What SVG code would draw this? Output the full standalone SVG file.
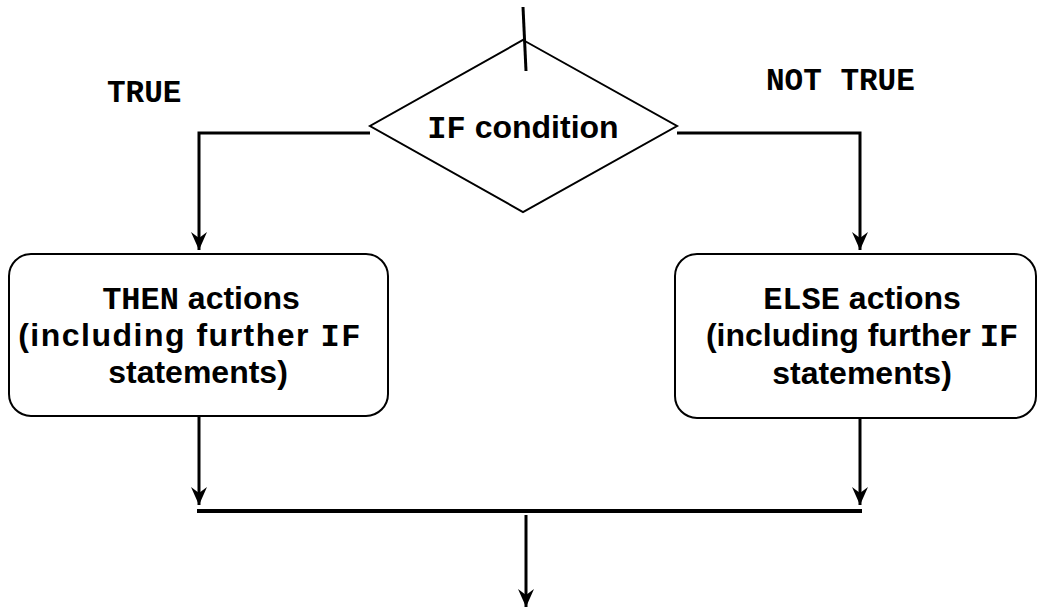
<svg xmlns="http://www.w3.org/2000/svg" width="1039" height="610" viewBox="0 0 1039 610">
<style>
.shape{fill:#fff;stroke:#000;stroke-width:2}
.line{fill:none;stroke:#000;stroke-width:3}
.t{font-family:"Liberation Sans",Arial,sans-serif;font-weight:bold;font-size:32px;fill:#000;text-anchor:middle}
.m{font-family:"Liberation Mono","Courier New",monospace;font-weight:bold}
.lbl{font-family:"Liberation Mono","Courier New",monospace;font-weight:bold;font-size:31px;fill:#000}
</style>
<defs>
<marker id="arr" viewBox="0 0 18 16" refX="18" refY="8" markerWidth="18" markerHeight="16" markerUnits="userSpaceOnUse" orient="auto">
<path d="M0,0 L18,8 L0,16 L6,8 Z" fill="#000"/>
</marker>
</defs>
<g id="decision">
<polygon class="shape" points="523,40 677,126 523,212 370,126"/>
<text class="t" x="523" y="138"><tspan class="m">IF</tspan> condition</text>
</g>
<g id="then">
<rect class="shape" x="9" y="254" width="379" height="162" rx="22"/>
<text class="t" x="201" y="309"><tspan class="m">THEN</tspan> actions</text>
<text class="t" x="190" y="346" letter-spacing="1.5">(including further <tspan class="m">IF</tspan></text>
<text class="t" x="198" y="383">statements)</text>
</g>
<g id="else">
<rect class="shape" x="675" y="254" width="361" height="164" rx="22"/>
<text class="t" x="862" y="309"><tspan class="m">ELSE</tspan> actions</text>
<text class="t" x="862" y="346">(including further <tspan class="m">IF</tspan></text>
<text class="t" x="862" y="384">statements)</text>
</g>
<g id="labels">
<text class="lbl" x="107" y="102">TRUE</text>
<text class="lbl" x="766" y="90">NOT TRUE</text>
</g>
<g id="connectors">
<line class="line" x1="523" y1="7" x2="526" y2="71"/>
<polyline class="line" points="370,133 199,133 199,250" marker-end="url(#arr)"/>
<polyline class="line" points="677,133 860,133 860,250" marker-end="url(#arr)"/>
<line class="line" x1="199" y1="416" x2="199" y2="505" marker-end="url(#arr)"/>
<line class="line" x1="860" y1="418" x2="860" y2="505" marker-end="url(#arr)"/>
<line x1="197" y1="511" x2="862" y2="511" stroke="#000" stroke-width="4"/>
<line class="line" x1="526" y1="515" x2="526" y2="607" marker-end="url(#arr)"/>
</g>
</svg>
